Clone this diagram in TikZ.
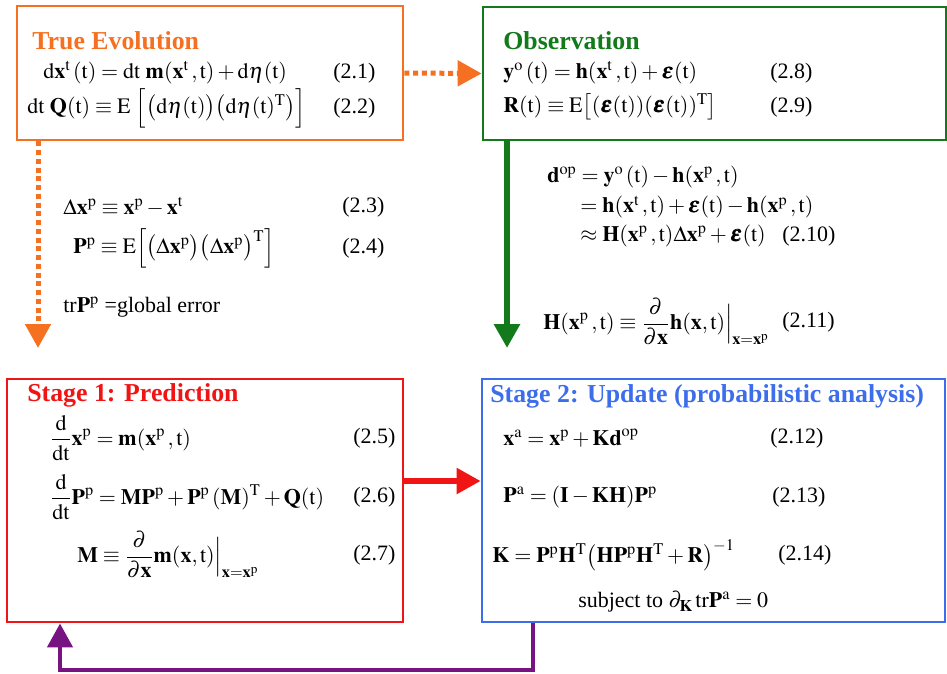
\documentclass[tikz,border=0pt]{standalone}
\usepackage{amsmath}
\usepackage{mathptmx}
\usepackage{bm}
\usepackage{fontspec}
\setmainfont{Liberation Serif}
\usetikzlibrary{arrows.meta,positioning,fit,calc}

\definecolor{evoOrange}{RGB}{245,112,32}
\definecolor{obsGreen}{RGB}{18,122,26}
\definecolor{predRed}{RGB}{240,20,20}
\definecolor{updBlue}{RGB}{60,110,235}
\definecolor{loopPurple}{RGB}{120,20,130}

\newcommand{\bx}{\mathbf{x}}
\newcommand{\beps}{\bm{\varepsilon}}

\tikzset{
  box/.style={draw=#1, line width=1.6pt, inner sep=0pt},
  title/.style={text=#1, anchor=west, inner sep=0pt, font=\fontsize{14.7}{17}\selectfont\bfseries},
  eq/.style={anchor=west, inner sep=0pt, font=\fontsize{12.5}{15}\selectfont},
  tip/.style={-{Triangle[length=4.8mm, width=5mm]}}
}

\begin{document}
\begin{tikzpicture}[x=0.2mm, y=-0.2mm]
  \useasboundingbox (0,0) rectangle (947,673);
  \node[box=evoOrange, fit={(17,6) (403,140)}] (truth) {};
  \node[box=obsGreen, fit={(483,7) (946,140)}] (obs) {};
  \node[box=predRed, fit={(7,379) (403,622)}] (pred) {};
  \node[box=updBlue, fit={(482,379) (945,622)}] (upd) {};

  \node[title=evoOrange] (tTrue) at (32,41) {True Evolution};
  \node[title=obsGreen] (tObs) at (503,41) {Observation};
  \node[title=predRed] (tPred) at (27,395) {Stage 1: Prediction};
  \node[title=updBlue] (tUpd) at (490,396) {Stage 2: Update (probabilistic analysis)};

  \node[eq] (eA) at (43,73) {$\mathrm{d\bx^t\,(t) = dt\ \mathbf{m}(\bx^t\,, t) + d\eta(t)}$};
  \node[eq] (eB) at (27,108) {$\mathrm{dt\ \mathbf{Q}(t) \equiv E\ \Bigl[\bigl(d\eta(t)\bigr)\bigl(d\eta(t)^T\bigr)\Bigr]}$};
  \node[eq] (eC) at (63,207) {$\mathrm{\Delta\bx^p \equiv \bx^p - \bx^t}$};
  \node[eq] (eD) at (73,248) {$\mathrm{\mathbf{P}^p \equiv E\Bigl[\bigl(\Delta\bx^p\bigr)\bigl(\Delta\bx^p\bigr)^T\Bigr]}$};
  \node[eq] (gErr) at (63,307) {tr$\mathbf{P}^{\mathrm{p}}$ =global error};
  \node[eq] (eE) at (50,438) {$\displaystyle\mathrm{\frac{d}{dt}\bx^p = \mathbf{m}(\bx^p\,, t)}$};
  \node[eq] (eF) at (50,497) {$\displaystyle\mathrm{\frac{d}{dt}\mathbf{P}^p = \mathbf{MP}^p + \mathbf{P}^p\,(\mathbf{M})^T + \mathbf{Q}(t)}$};
  \node[eq] (eG) at (77,555) {$\displaystyle\mathrm{\mathbf{M} \equiv \frac{\partial}{\partial\bx}\mathbf{m}(\bx, t)\Big|_{\bx=\bx^p}}$};

  \node[eq] (eH) at (503,73) {$\mathrm{\mathbf{y}^o\,(t) = \mathbf{h}(\bx^t\,, t) + \beps(t)}$};
  \node[eq] (eI) at (503,107) {$\mathrm{\mathbf{R}(t) \equiv E\bigl[(\beps(t))(\beps(t))^T\bigr]}$};
  \node[eq] (dA) at (547,177) {$\mathrm{\mathbf{d}^{op} = \mathbf{y}^o\,(t) - \mathbf{h}(\bx^p\,, t)}$};
  \node[eq] (dB) at (580,207) {$\mathrm{= \mathbf{h}(\bx^t\,, t) + \beps(t) - \mathbf{h}(\bx^p\,, t)}$};
  \node[eq] (dC) at (580,236) {$\mathrm{\approx \mathbf{H}(\bx^p\,, t)\Delta\bx^p + \beps(t)}$};
  \node[eq] (eJ) at (543,322) {$\displaystyle\mathrm{\mathbf{H}(\bx^p\,, t) \equiv \frac{\partial}{\partial\bx}\mathbf{h}(\bx, t)\Big|_{\bx=\bx^p}}$};
  \node[eq] (eK) at (503,438) {$\mathrm{\bx^a = \bx^p + \mathbf{Kd}^{op}}$};
  \node[eq] (eL) at (503,497) {$\mathrm{\mathbf{P}^a = (\mathbf{I} - \mathbf{KH})\mathbf{P}^p}$};
  \node[eq] (eM) at (492,555) {$\mathrm{\mathbf{K} = \mathbf{P}^p\mathbf{H}^T\bigl(\mathbf{HP}^p\mathbf{H}^T + \mathbf{R}\bigr)^{-1}}$};
  \node[eq] (sub) at (578,602) {subject to $\mathrm{\partial_{\mathbf{K}}\,tr\mathbf{P}^a = 0}$};

  \foreach \i/\x/\y/\n in {1/333/73/2.1, 2/333/108/2.2, 3/342/207/2.3, 4/342/248/2.4,
                           5/353/438/2.5, 6/353/497/2.6, 7/353/555/2.7,
                           8/770/73/2.8, 9/770/107/2.9, 10/782/236/2.10, 11/782/322/2.11,
                           12/770/438/2.12, 13/772/497/2.13, 14/778/555/2.14}
    \node[eq] (num\i) at (\x,\y) {(\n)};

  \coordinate (predTop) at (38,348);
  \coordinate (obsTip) at (507,348);
  \coordinate (gain) at (0,481);
  \coordinate (fb) at (533,670);
  \coordinate (fbL) at (60,670);

  \draw[tip, evoOrange, line width=1mm, dash pattern=on 1mm off 0.75mm] (truth.east) -- (obs.west);
  \draw[tip, evoOrange, line width=1mm, dash pattern=on 1mm off 0.75mm] (truth.south -| predTop) -- (predTop);
  \draw[tip, obsGreen, line width=1.3mm] (obs.south -| obsTip) -- (obsTip);
  \draw[tip, predRed, line width=1.1mm] (pred.east |- gain) -- (upd.west |- gain);
  \draw[tip, loopPurple, line width=0.9mm] (upd.south -| fb) |- (fbL) -- (pred.south -| fbL);
\end{tikzpicture}
\end{document}
